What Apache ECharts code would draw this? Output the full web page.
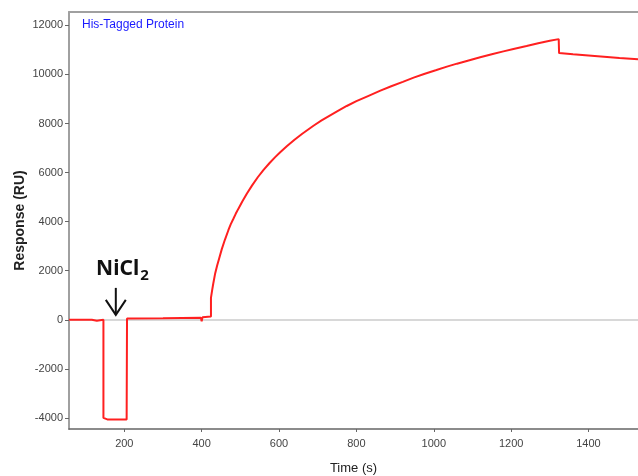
<!DOCTYPE html>
<html>
<head>
<meta charset="utf-8">
<script src="https://cdn.jsdelivr.net/npm/echarts@6/dist/echarts.min.js"></script>
<style>html,body{margin:0;padding:0;background:#fff}#c{width:638px;height:476px}</style>
</head>
<body>
<div id="c"></div>
<script>
// ---- data ----
var time = [57, 116, 118, 129, 131, 146, 146, 156, 206, 207, 210, 300, 398, 400, 402, 404,
  424, 424, 427, 430, 435, 440, 445, 452, 460, 469, 475, 482, 488, 495, 505, 517, 530, 545, 560, 575, 590, 603,
  620, 640, 660, 689, 710, 730, 750, 775, 800, 830, 862, 890, 920, 948, 975, 1005, 1034, 1060, 1090, 1120,
  1150, 1180, 1206, 1240, 1270, 1300, 1323, 1324, 1360, 1400, 1440, 1480, 1528];
var response = [0, 0, -40, -40, 0, 0, -4000, -4060, -4060, 50, 50, 60, 80, -60, 100, 120,
  130, 890, 1200, 1480, 1900, 2210, 2490, 2880, 3260, 3650, 3890, 4120, 4320, 4530, 4820, 5150, 5470, 5810, 6110, 6380, 6630, 6830,
  7070, 7340, 7585, 7910, 8125, 8315, 8495, 8715, 8910, 9120, 9340, 9520, 9700, 9870, 10020, 10170, 10320, 10440, 10570, 10700,
  10820, 10940, 11040, 11160, 11270, 11370, 11440, 10870, 10820, 10770, 10720, 10670, 10620];
var xTicks = [200, 400, 600, 800, 1000, 1200, 1400];
var yTicks = [-4000, -2000, 0, 2000, 4000, 6000, 8000, 10000, 12000];
var titleText = 'His-Tagged Protein';
var xName = 'Time (s)';
var yName = 'Response (RU)';
var annotation = {x: 178, yTip: 200, yTop: 1300, textX: 127, yText: 2050};

var pts = time.map(function (t, i) { return [t, response[i]]; });
var font = 'Liberation Sans, Arial, sans-serif';

var chart = echarts.init(document.getElementById('c'), null, {renderer: 'canvas'});
chart.setOption({
  animation: false,
  backgroundColor: '#fff',
  title: {
    text: titleText, left: 77, top: 14,
    textStyle: {fontSize: 12, fontWeight: 'normal', color: '#1a1aff', fontFamily: font}
  },
  grid: {left: 69, right: 0, top: 12, bottom: 47, containLabel: false, outerBoundsMode: 'none'},
  xAxis: [{
    type: 'value', min: 57, max: 1528, position: 'bottom',
    name: xName, nameLocation: 'middle', nameGap: 33, nameMoveOverlap: false,
    nameTextStyle: {fontSize: 13, color: '#222', fontFamily: font},
    axisLine: {show: true, onZero: false, lineStyle: {color: '#666', width: 1.5}},
    axisTick: {show: true, customValues: xTicks, length: 3, lineStyle: {color: '#666'}},
    axisLabel: {customValues: xTicks, fontSize: 11, color: '#444', fontFamily: font, margin: 9,
      formatter: function (v) { return String(v); }},
    splitLine: {show: false}
  }, {
    type: 'value', min: 57, max: 1528, position: 'top',
    axisLine: {show: true, onZero: false, lineStyle: {color: '#a0a0a0', width: 2}},
    axisTick: {show: false}, axisLabel: {show: false}, splitLine: {show: false}
  }],
  yAxis: {
    type: 'value', min: -4452, max: 12546,
    name: yName, nameLocation: 'middle', nameGap: 42, nameMoveOverlap: false,
    nameTextStyle: {fontSize: 14, fontWeight: 'bold', color: '#222', fontFamily: font},
    axisLine: {show: true, onZero: false, lineStyle: {color: '#a0a0a0', width: 2}},
    axisTick: {show: true, customValues: yTicks, length: 4, lineStyle: {color: '#666'}},
    axisLabel: {customValues: yTicks, fontSize: 11, color: '#444', fontFamily: font, margin: 6,
      formatter: function (v) { return String(v); }},
    splitLine: {show: false}
  },
  series: [{
    type: 'line', data: pts, showSymbol: false, smooth: false,
    lineStyle: {color: '#ff2020', width: 2},
    z: 3,
    markLine: {
      silent: true, symbol: 'none', label: {show: false},
      lineStyle: {color: '#d8d8d8', width: 2, type: 'solid'},
      data: [{yAxis: 0}],
      z: 1
    }
  }]
});

var pTip = chart.convertToPixel({gridIndex: 0}, [annotation.x, annotation.yTip]);
var pTop = chart.convertToPixel({gridIndex: 0}, [annotation.x, annotation.yTop]);
var pTxt = chart.convertToPixel({gridIndex: 0}, [annotation.textX, annotation.yText]);
chart.setOption({
  graphic: [
    {type: 'line', shape: {x1: pTip[0], y1: pTop[1], x2: pTip[0], y2: pTip[1]}, style: {stroke: '#111', lineWidth: 2}},
    {type: 'polyline', shape: {points: [[pTip[0] - 10, pTip[1] - 15], [pTip[0], pTip[1]], [pTip[0] + 10, pTip[1] - 15]]}, style: {stroke: '#111', lineWidth: 2, fill: null}},
    {type: 'text', x: pTxt[0], y: pTxt[1], style: {
      text: '{a|NiCl}{b|2}', align: 'left', verticalAlign: 'middle',
      rich: {
        a: {fontSize: 21, fontWeight: 'bold', fontFamily: 'Noto Sans, Open Sans, sans-serif', fill: '#111'},
        b: {fontSize: 15, fontWeight: 'bold', fontFamily: 'Noto Sans, Open Sans, sans-serif', fill: '#111', verticalAlign: 'bottom', padding: [12, 0, 0, 1]}
      }
    }}
  ]
});
</script>
</body>
</html>
